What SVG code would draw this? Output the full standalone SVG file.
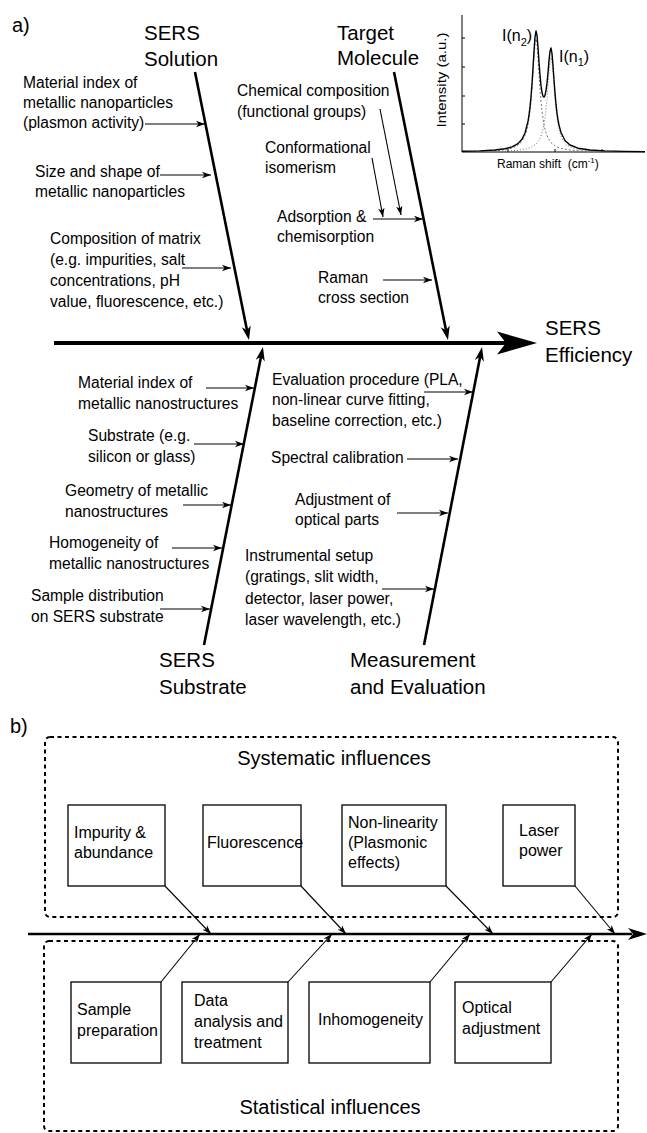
<svg xmlns="http://www.w3.org/2000/svg" width="647" height="1133" viewBox="0 0 647 1133">
  <defs>
    <style>
      text { font-family: "Liberation Sans", Arial, sans-serif; fill: #000; }
      .t { font-size: 15.6px; }
      .h { font-size: 20.5px; }
      .bx { font-size: 16px; }
      .lab { font-size: 20px; }
      .ins { font-size: 12px; }
      .spine { stroke: #000; stroke-width: 2.6; fill: none; marker-end: url(#headL); }
      .thin { stroke: #000; stroke-width: 1.1; fill: none; marker-end: url(#headS); }
      .box { fill: #fff; stroke: #000; stroke-width: 1.3; }
      .dash { fill: none; stroke: #000; stroke-width: 2; stroke-dasharray: 4 3.5; }
      .ax { stroke: #000; stroke-width: 1; fill: none; }
    </style>
    <marker id="headL" viewBox="-14 -5 14 10" refX="-8" refY="0" markerWidth="14" markerHeight="10" markerUnits="userSpaceOnUse" orient="auto">
      <path d="M0,0 L-14,-4.6 L-10,0 L-14,4.6 Z" fill="#000"/>
    </marker>
    <marker id="headS" viewBox="-9 -4 9 8" refX="0" refY="0" markerWidth="9" markerHeight="8" markerUnits="userSpaceOnUse" orient="auto">
      <path d="M0,0 L-9,-3.2 L-6.5,0 L-9,3.2 Z" fill="#000"/>
    </marker>
  </defs>

  <rect width="647" height="1133" fill="#fff"/>

  <!-- ===== a) cause-and-effect diagram ===== -->
  <text class="lab" x="12" y="32">a)</text>

  <g id="connectors-a">
    <!-- main spine -->
    <line x1="54" y1="343" x2="506" y2="343" stroke="#000" stroke-width="4"/>
    <path d="M537,343 L497,331.5 L506,343 L497,354.5 Z" fill="#000"/>
    <!-- category spines -->
    <line class="spine" x1="195" y1="72" x2="247.4" y2="332.2"/>
    <line class="spine" x1="394" y1="72" x2="446.4" y2="332.2"/>
    <line class="spine" x1="204" y1="645" x2="261.4" y2="354.8"/>
    <line class="spine" x1="424" y1="645" x2="480.5" y2="354.9"/>
    <!-- SERS solution causes -->
    <line class="thin" x1="145" y1="124" x2="205" y2="124"/>
    <line class="thin" x1="160" y1="175" x2="211" y2="175"/>
    <line class="thin" x1="182" y1="268" x2="231" y2="268"/>
    <!-- target molecule causes -->
    <line class="thin" x1="380" y1="109" x2="401" y2="215"/>
    <line class="thin" x1="372" y1="158" x2="383" y2="217"/>
    <line class="thin" x1="373" y1="219" x2="423" y2="219"/>
    <line class="thin" x1="383" y1="280" x2="432" y2="280"/>
    <!-- SERS substrate causes -->
    <line class="thin" x1="206" y1="388" x2="254" y2="388"/>
    <line class="thin" x1="194" y1="444" x2="244" y2="444"/>
    <line class="thin" x1="183" y1="505" x2="231" y2="505"/>
    <line class="thin" x1="172" y1="548" x2="222" y2="548"/>
    <line class="thin" x1="160" y1="609" x2="210" y2="609"/>
    <!-- measurement causes -->
    <line class="thin" x1="424" y1="392" x2="473" y2="392"/>
    <line class="thin" x1="407" y1="459" x2="458" y2="459"/>
    <line class="thin" x1="397" y1="513" x2="448" y2="513"/>
    <line class="thin" x1="382" y1="589" x2="434" y2="589"/>
  </g>

  <g id="cat-solution">
    <text class="h" x="144" y="40">SERS</text>
    <text class="h" x="144" y="66">Solution</text>
  </g>
  <g id="cat-target">
    <text class="h" x="337" y="40">Target</text>
    <text class="h" x="337" y="65">Molecule</text>
  </g>
  <g id="effect">
    <text class="h" x="545" y="335">SERS</text>
    <text class="h" x="545" y="362">Efficiency</text>
  </g>
  <g id="cat-substrate">
    <text class="h" x="159" y="667">SERS</text>
    <text class="h" x="159" y="694">Substrate</text>
  </g>
  <g id="cat-measurement">
    <text class="h" x="350" y="667">Measurement</text>
    <text class="h" x="350" y="694">and Evaluation</text>
  </g>

  <g id="cause-material-np" class="t">
    <text x="23" y="88">Material index of</text>
    <text x="23" y="108">metallic nanoparticles</text>
    <text x="23" y="128">(plasmon activity)</text>
  </g>
  <g id="cause-size-shape" class="t">
    <text x="35" y="177">Size and shape of</text>
    <text x="35" y="197">metallic nanoparticles</text>
  </g>
  <g id="cause-matrix" class="t">
    <text x="50" y="244">Composition of matrix</text>
    <text x="50" y="265">(e.g. impurities, salt</text>
    <text x="50" y="286">concentrations, pH</text>
    <text x="50" y="307">value, fluorescence, etc.)</text>
  </g>

  <g id="cause-chemical" class="t">
    <text x="237" y="96">Chemical composition</text>
    <text x="237" y="117">(functional groups)</text>
  </g>
  <g id="cause-conformation" class="t">
    <text x="265" y="153">Conformational</text>
    <text x="265" y="173">isomerism</text>
  </g>
  <g id="cause-adsorption" class="t">
    <text x="277" y="222">Adsorption &amp;</text>
    <text x="277" y="242">chemisorption</text>
  </g>
  <g id="cause-cross-section" class="t">
    <text x="318" y="283">Raman</text>
    <text x="318" y="303">cross section</text>
  </g>

  <g id="cause-material-ns" class="t">
    <text x="78" y="388">Material index of</text>
    <text x="78" y="409">metallic nanostructures</text>
  </g>
  <g id="cause-substrate" class="t">
    <text x="88" y="441">Substrate (e.g.</text>
    <text x="88" y="462">silicon or glass)</text>
  </g>
  <g id="cause-geometry" class="t">
    <text x="65" y="496">Geometry of metallic</text>
    <text x="65" y="517">nanostructures</text>
  </g>
  <g id="cause-homogeneity" class="t">
    <text x="49" y="548">Homogeneity of</text>
    <text x="49" y="569">metallic nanostructures</text>
  </g>
  <g id="cause-distribution" class="t">
    <text x="31" y="601">Sample distribution</text>
    <text x="31" y="622">on SERS substrate</text>
  </g>

  <g id="cause-evaluation" class="t">
    <text x="272" y="385">Evaluation procedure (PLA,</text>
    <text x="272" y="405">non-linear curve fitting,</text>
    <text x="272" y="426">baseline correction, etc.)</text>
  </g>
  <g id="cause-calibration" class="t">
    <text x="271" y="463">Spectral calibration</text>
  </g>
  <g id="cause-optics" class="t">
    <text x="295" y="505">Adjustment of</text>
    <text x="295" y="525">optical parts</text>
  </g>
  <g id="cause-setup" class="t">
    <text x="245" y="561">Instrumental setup</text>
    <text x="245" y="582">(gratings, slit width,</text>
    <text x="245" y="604">detector, laser power,</text>
    <text x="245" y="625">laser wavelength, etc.)</text>
  </g>

  <!-- inset: overlapping Raman bands -->
  <g id="inset-spectrum">
    <path class="ax" d="M462,15 V152 H645"/>
    <path class="ax" d="M462,38 h3 M462,67 h3 M462,96 h3 M462,124 h3 M508,152 v-3 M555,152 v-3 M602,152 v-3"/>
    <polyline fill="none" stroke="#777" stroke-width="1" stroke-dasharray="2 2"
      points="466,151.5 491,150.9 502,150.05 511,148.4 516,146.5 521,142.65 524,138 526,132.9 528,124.8 530,111.25 531,101.35 532,88.8 533,73.6 534,57.5 535,44.1 536,38.8 537,44.1 538,57.5 539,73.6 540,88.8 541,101.35 542,111.25 544,124.8 546,132.9 548,138 551,142.65 556,146.5 561,148.4 570,150.05 581,150.9 606,151.5"/>
    <polyline fill="none" stroke="#777" stroke-width="1" stroke-dasharray="1 2"
      points="481,151.6 506,151.1 517,150.4 526,149 531,147.4 536,144.2 539,140.3 541,136.1 543,129.3 545,117.95 546,109.7 547,99.15 548,86.5 549,73 550,61.85 551,57.4 552,61.85 553,73 554,86.5 555,99.15 556,109.7 557,117.95 559,129.3 561,136.1 563,140.3 566,144.2 571,147.4 576,149 585,150.4 596,151.1 621,151.6"/>
    <polyline fill="none" stroke="#000" stroke-width="1.4" stroke-linejoin="round"
      points="462,151.3 480,150.9 495,150 505,148.8 512,146.9 518,143.6 522,139.2 525,133 528,121.3 529,115.1 530,107.1 531,96.8 532,83.7 533,68 534,51.3 535,37.2 536,31 537,35.3 538,47.3 539,62 540,75.2 541,85.4 542,92.3 543,96.2 544,97.1 545,95.3 546,90.6 547,82.9 548,72.5 549,60.9 550,51.3 551,48 552,53.6 553,65.6 554,79.8 555,93.1 556,104.2 557,113 558,119.8 559,125.1 561,132.5 565,140.5 570,145 578,148.2 590,150 605,150.9 625,151.4 645,151.6"/>
    <text font-size="16" x="502" y="41">I(n<tspan font-size="11" dy="5">2</tspan><tspan dy="-5">)</tspan></text>
    <text font-size="16" x="559" y="62">I(n<tspan font-size="11" dy="4">1</tspan><tspan dy="-4">)</tspan></text>
    <text class="ins" transform="translate(446,80) rotate(-90)" text-anchor="middle" textLength="95" lengthAdjust="spacingAndGlyphs">Intensity (a.u.)</text>
    <text class="ins" x="497" y="168">Raman shift&#160; (cm<tspan font-size="8" dy="-5">-1</tspan><tspan dy="5">)</tspan></text>
  </g>

  <!-- ===== b) systematic vs. statistical influences ===== -->
  <text class="lab" x="10" y="733">b)</text>

  <g id="group-systematic">
    <rect class="dash" x="45" y="737" width="573" height="180" rx="5"/>
    <text class="lab" x="334" y="765" text-anchor="middle">Systematic influences</text>
  </g>
  <g id="group-statistical">
    <rect class="dash" x="44" y="941" width="574" height="190" rx="5"/>
    <text class="lab" x="330" y="1114" text-anchor="middle">Statistical influences</text>
  </g>

  <g id="connectors-b">
    <line x1="28" y1="934" x2="632" y2="934" stroke="#000" stroke-width="2.4"/>
    <path d="M647,934 L628,928 L633,934 L628,940 Z" fill="#000"/>
    <line class="thin" stroke-width="1.3" x1="165" y1="886" x2="211" y2="934"/>
    <line class="thin" stroke-width="1.3" x1="301" y1="886" x2="346" y2="934"/>
    <line class="thin" stroke-width="1.3" x1="446" y1="886" x2="493" y2="934"/>
    <line class="thin" stroke-width="1.3" x1="575" y1="886" x2="615" y2="934"/>
    <line class="thin" stroke-width="1.3" x1="161" y1="982" x2="200" y2="934"/>
    <line class="thin" stroke-width="1.3" x1="288" y1="982" x2="332" y2="934"/>
    <line class="thin" stroke-width="1.3" x1="430" y1="982" x2="470" y2="934"/>
    <line class="thin" stroke-width="1.3" x1="551" y1="982" x2="592" y2="934"/>
  </g>

  <g id="box-impurity" class="bx">
    <rect class="box" x="68" y="805" width="97" height="81"/>
    <text x="74" y="838">Impurity &amp;</text>
    <text x="74" y="858">abundance</text>
  </g>
  <g id="box-fluorescence" class="bx">
    <rect class="box" x="203" y="805" width="98" height="81"/>
    <text x="207" y="848">Fluorescence</text>
  </g>
  <g id="box-nonlinearity" class="bx">
    <rect class="box" x="342" y="805" width="104" height="81"/>
    <text x="348" y="828">Non-linearity</text>
    <text x="348" y="848">(Plasmonic</text>
    <text x="348" y="868">effects)</text>
  </g>
  <g id="box-laser" class="bx">
    <rect class="box" x="503" y="805" width="72" height="81"/>
    <text x="519" y="836">Laser</text>
    <text x="519" y="856">power</text>
  </g>

  <g id="box-sample" class="bx">
    <rect class="box" x="71" y="982" width="90" height="81"/>
    <text x="77" y="1015">Sample</text>
    <text x="77" y="1036">preparation</text>
  </g>
  <g id="box-data" class="bx">
    <rect class="box" x="182" y="982" width="106" height="81" stroke-width="2"/>
    <text x="194" y="1006">Data</text>
    <text x="194" y="1027">analysis and</text>
    <text x="194" y="1048">treatment</text>
  </g>
  <g id="box-inhomogeneity" class="bx">
    <rect class="box" x="309" y="982" width="121" height="81"/>
    <text x="318" y="1025">Inhomogeneity</text>
  </g>
  <g id="box-optical" class="bx">
    <rect class="box" x="455" y="982" width="96" height="81"/>
    <text x="462" y="1013">Optical</text>
    <text x="462" y="1034">adjustment</text>
  </g>
</svg>
